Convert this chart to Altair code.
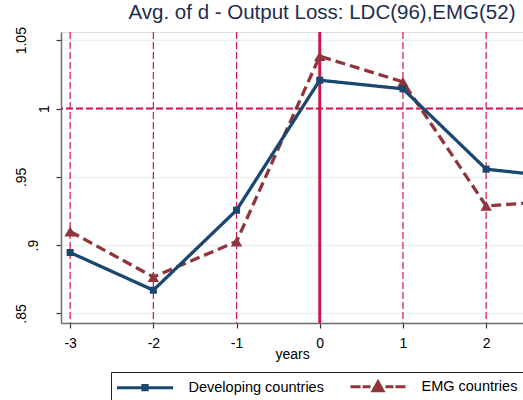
import altair as alt
import pandas as pd

# Event-window averages of d (output loss), by country group
years = [-3, -2, -1, 0, 1, 2, 3]
developing = [0.8946, 0.867, 0.9256, 1.0207, 1.0144, 0.9556, 0.949]
emg = [0.910, 0.8767, 0.9026, 1.0383, 1.0195, 0.9287, 0.933]

series_names = ["Developing countries", "EMG countries"]
series_colors = ["#1a476f", "#90353b"]
ref_years = [-3, -2, -1, 1, 2, 3]
y_ticks = [0.85, 0.9, 0.95, 1.0, 1.05]

title_text = "Avg. of d - Output Loss: LDC(96),EMG(52)"
FONT = "Liberation Sans"
RED = "#d0174b"

df = pd.DataFrame({
    "year": years * 2,
    "value": developing + emg,
    "series": [series_names[0]] * len(years) + [series_names[1]] * len(years),
})
refs = pd.DataFrame({"year": ref_years})
zero = pd.DataFrame({"year": [0]})
one = pd.DataFrame({"value": [1.0]})

x_scale = alt.Scale(domain=[-3.11, 2.443], nice=False, zero=False)
y_scale = alt.Scale(domain=[0.843, 1.056], nice=False, zero=False)

x_axis = alt.Axis(
    values=years, title="years", grid=False, labelExpr="datum.value + ''",
    labelFont=FONT, labelFontSize=14, labelColor="black", labelPadding=8,
    tickSize=5, tickColor="#333", tickWidth=1.2,
    domainColor="#6e6e6e", domainWidth=1.5,
    titleFont=FONT, titleFontSize=14, titleFontWeight="normal", titleColor="black",
    titleBaseline="alphabetic", titleY=35,
)
y_axis = alt.Axis(
    values=y_ticks, title=None, grid=True, gridColor="#eaf2f3", gridWidth=1.5,
    labelExpr="datum.value == 1 ? '1' : replace(format(datum.value, '.2~f'), '0.', '.')",
    labelAngle=270, labelAlign="center", labelBaseline="alphabetic",
    labelPadding={"condition": [
        {"test": "abs(datum.value - 1) < 1e-6", "value": 8},
        {"test": "abs(datum.value - 0.9) < 1e-6", "value": 19},
    ], "value": 31},
    labelFont=FONT, labelFontSize=14, labelColor="black",
    tickSize=5, tickColor="#333", tickWidth=1.2,
    domainColor="#6e6e6e", domainWidth=1.5,
)

base_x = alt.X("year:Q", scale=x_scale, axis=x_axis)
base_y = alt.Y("value:Q", scale=y_scale, axis=y_axis)

# reference lines: dashed verticals at each year, solid at the event year, dashed at 1
v_rules = alt.Chart(refs).mark_rule(color=RED, strokeWidth=1.2, strokeDash=[7, 3], clip=True).encode(
    x=alt.X("year:Q", scale=x_scale)
)
zero_rule = alt.Chart(zero).mark_rule(color=RED, strokeWidth=3).encode(
    x=alt.X("year:Q", scale=x_scale)
)
one_rule = alt.Chart(one).mark_rule(color=RED, strokeWidth=1.8, strokeDash=[7, 3]).encode(
    y=alt.Y("value:Q", scale=y_scale)
)

layers = [v_rules, zero_rule, one_rule]

styles = [
    dict(dash=[1, 0], shape="square", size=50),
    dict(dash=[10, 5], shape="triangle-up", size=130),
]
draw_order = [1, 0]
for i in draw_order:
    name = series_names[i]
    sub = alt.Chart(df).transform_filter(alt.datum.series == name)
    line = sub.mark_line(color=series_colors[i], strokeWidth=3.3,
                         strokeDash=styles[i]["dash"], clip=True).encode(x=base_x, y=base_y)
    pts = sub.mark_point(color=series_colors[i], filled=True, opacity=1,
                         shape=styles[i]["shape"], size=styles[i]["size"],
                         clip=True).encode(x=base_x, y=base_y)
    layers += [line, pts]

# legend symbols: a line segment with its marker, as custom paths (7 px per unit)
legend_paths = [
    "M-4,0H4M-0.31,-0.31H0.31V0.31H-0.31Z",
    "M-3.93,0H-2.5M-2.21,0H-1.07M1.07,0H2.21M2.5,0H3.93M0,-0.71L0.71,0.57L-0.71,0.57Z",
]
leg = alt.Legend(
    title=None, orient="none", legendX=50, legendY=340, direction="horizontal",
    strokeColor="#222", fillColor="white", padding=6,
    symbolSize=196, symbolStrokeWidth=3, symbolOffset=19.5,
    labelFont=FONT, labelFontSize=14.5, labelColor="black", labelOffset=35,
    labelLimit=0, columnPadding=20,
)
legend_layer = alt.Chart(df).transform_filter("false").mark_point(
    filled=True, opacity=1, strokeWidth=3
).encode(
    x=alt.X("year:Q", scale=x_scale),
    y=alt.Y("value:Q", scale=y_scale),
    fill=alt.Fill("series:N", scale=alt.Scale(domain=series_names, range=series_colors), legend=leg),
    stroke=alt.Stroke("series:N", scale=alt.Scale(domain=series_names, range=series_colors), legend=leg),
    shape=alt.Shape("series:N", scale=alt.Scale(domain=series_names, range=legend_paths), legend=leg),
)
layers.append(legend_layer)

chart = alt.layer(*layers).properties(
    width=462,
    height=291,
    autosize=alt.AutoSizeParams(type="none"),
    padding={"left": 61, "top": 32, "right": 0, "bottom": 77},
    title=alt.TitleParams(
        text=title_text, font=FONT, fontSize=20.5, fontWeight="normal",
        color="#1e2c50", anchor="middle", dx=30, dy=21, offset=8, baseline="alphabetic",
    ),
).configure_view(stroke=None).configure(background="white")

chart.save("out.html", embed_options={"renderer": "svg", "actions": False})
